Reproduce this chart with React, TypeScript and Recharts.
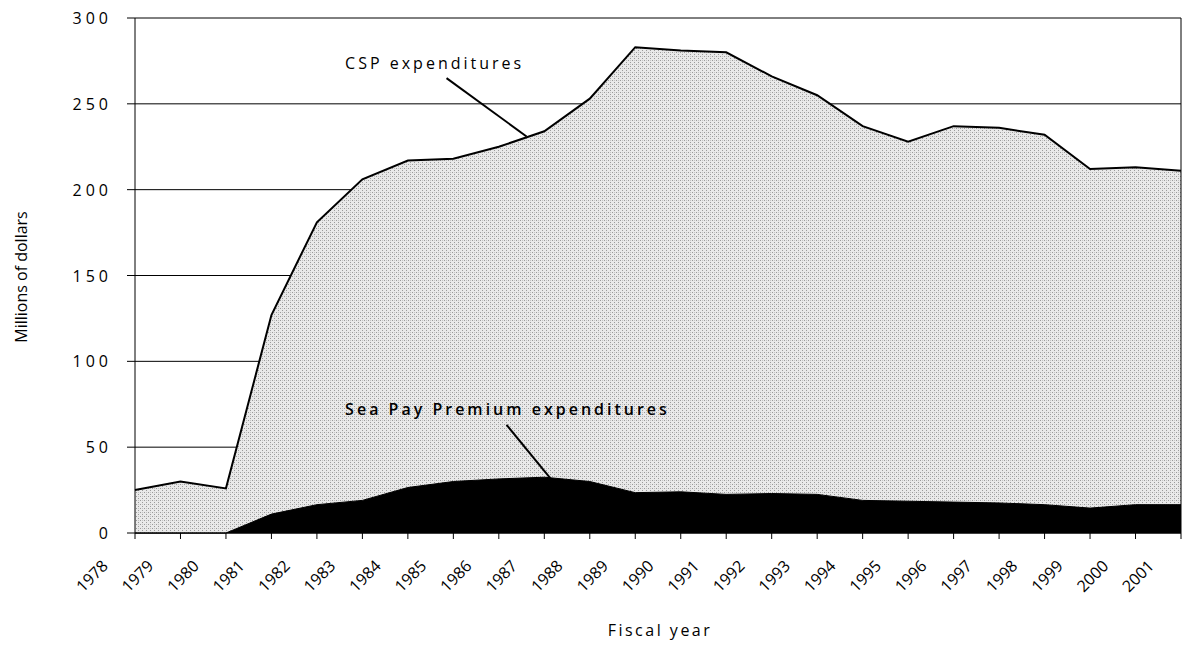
import {
  AreaChart,
  Area,
  XAxis,
  YAxis,
  CartesianGrid,
  ReferenceLine,
  ReferenceDot,
  Label,
} from "recharts";

const years = [
  1978, 1979, 1980, 1981, 1982, 1983, 1984, 1985, 1986, 1987, 1988, 1989,
  1990, 1991, 1992, 1993, 1994, 1995, 1996, 1997, 1998, 1999, 2000, 2001,
];

// CSP expenditures, millions of dollars
const cspValues = [
  25, 30, 26, 127, 181, 206, 217, 218, 225, 234, 253, 283, 281, 280, 266, 255,
  237, 228, 237, 236, 232, 212, 213, 211,
];

// Sea Pay Premium expenditures, millions of dollars
const seaPayValues = [
  0, 0, 0, 11, 16.5, 19, 26.5, 30, 31.5, 32.5, 30, 23.5, 24, 22.5, 23, 22.5, 19,
  18.5, 18, 17.5, 16.5, 14.5, 16.5, 16.5,
];

const yTicks = [0, 50, 100, 150, 200, 250, 300];

const data = years.map((year, i) => ({
  year,
  csp: cspValues[i],
  seaPay: seaPayValues[i],
}));

const FONT = '"Open Sans", sans-serif';

const YearTick = (props: any) => {
  const { x, y, payload } = props;
  const ax = x - 26;
  const ay = y + 26;
  return (
    <text
      x={ax}
      y={ay}
      transform={`rotate(-45 ${ax} ${ay})`}
      textAnchor="end"
      fontSize={16}
      fontFamily={FONT}
      fill="#000"
    >
      {payload.value}
    </text>
  );
};

const ValueTick = (props: any) => {
  const { x, y, payload } = props;
  return (
    <text
      x={x - 13}
      y={y}
      textAnchor="end"
      dominantBaseline="central"
      fontSize={16}
      letterSpacing={4}
      fontFamily={FONT}
      fill="#000"
    >
      {payload.value}
    </text>
  );
};

const callout = (text: string, weight: number) => (props: any) => {
  const { viewBox } = props;
  return (
    <text
      x={viewBox.x}
      y={viewBox.y}
      dominantBaseline="central"
      fontSize={16}
      fontWeight={weight}
      letterSpacing={3}
      fontFamily={FONT}
      fill="#000"
    >
      {text}
    </text>
  );
};

export default function App() {
  return (
    <div style={{ position: "absolute", left: 0, top: 0, background: "#fff" }}>
      <AreaChart
        width={1182}
        height={645}
        data={data}
        margin={{ top: 18, right: 1, bottom: 0, left: 0 }}
      >
        <defs>
          <pattern
            id="stipple"
            patternUnits="userSpaceOnUse"
            width={4}
            height={4}
          >
            <rect x={0} y={0} width={4} height={4} fill="#e9e9e9" />
            <rect x={0} y={0} width={1} height={1} fill="#9a9a9a" />
            <rect x={2} y={2} width={1} height={1} fill="#9a9a9a" />
            <rect x={2} y={0} width={1} height={1} fill="#c4c4c4" />
          </pattern>
        </defs>
        <CartesianGrid vertical={false} stroke="#000" strokeWidth={1} />
        <XAxis
          dataKey="year"
          type="number"
          domain={[1978, 2001]}
          ticks={years}
          interval={0}
          height={112}
          tickSize={6}
          axisLine={{ stroke: "#000" }}
          tickLine={{ stroke: "#000" }}
          tick={<YearTick />}
        >
          <Label
            content={() => (
              <text
                x={660}
                y={630}
                textAnchor="middle"
                dominantBaseline="central"
                fontSize={16}
                letterSpacing={2.5}
                fontFamily={FONT}
                fill="#000"
              >
                Fiscal year
              </text>
            )}
          />
        </XAxis>
        <YAxis
          type="number"
          domain={[0, 300]}
          ticks={yTicks}
          width={135}
          tickSize={8}
          axisLine={{ stroke: "#000" }}
          tickLine={{ stroke: "#000" }}
          tick={<ValueTick />}
        >
          <Label
            content={() => (
              <text
                x={21}
                y={277}
                transform="rotate(-90 21 277)"
                textAnchor="middle"
                dominantBaseline="central"
                fontSize={16}
                fontFamily={FONT}
                fill="#000"
              >
                Millions of dollars
              </text>
            )}
          />
        </YAxis>
        <Area
          type="linear"
          dataKey="csp"
          fill="url(#stipple)"
          fillOpacity={1}
          stroke="#000"
          strokeWidth={2}
          isAnimationActive={false}
          dot={false}
          activeDot={false}
        />
        <Area
          type="linear"
          dataKey="seaPay"
          fill="#000"
          fillOpacity={1}
          stroke="#000"
          strokeWidth={1}
          isAnimationActive={false}
          dot={false}
          activeDot={false}
        />
        <ReferenceLine x={2001} stroke="#000" strokeWidth={1} />
        <ReferenceLine
          segment={[
            { x: 1984.85, y: 265 },
            { x: 1986.61, y: 231 },
          ]}
          stroke="#000"
          strokeWidth={2}
          ifOverflow="visible"
        />
        <ReferenceLine
          segment={[
            { x: 1986.17, y: 63 },
            { x: 1987.13, y: 32 },
          ]}
          stroke="#000"
          strokeWidth={2}
          ifOverflow="visible"
        />
        <ReferenceDot
          x={1982.62}
          y={273.5}
          r={0}
          fill="none"
          stroke="none"
          ifOverflow="visible"
          label={callout("CSP expenditures", 400)}
        />
        <ReferenceDot
          x={1982.62}
          y={72}
          r={0}
          fill="none"
          stroke="none"
          ifOverflow="visible"
          label={callout("Sea Pay Premium expenditures", 600)}
        />
      </AreaChart>
    </div>
  );
}
